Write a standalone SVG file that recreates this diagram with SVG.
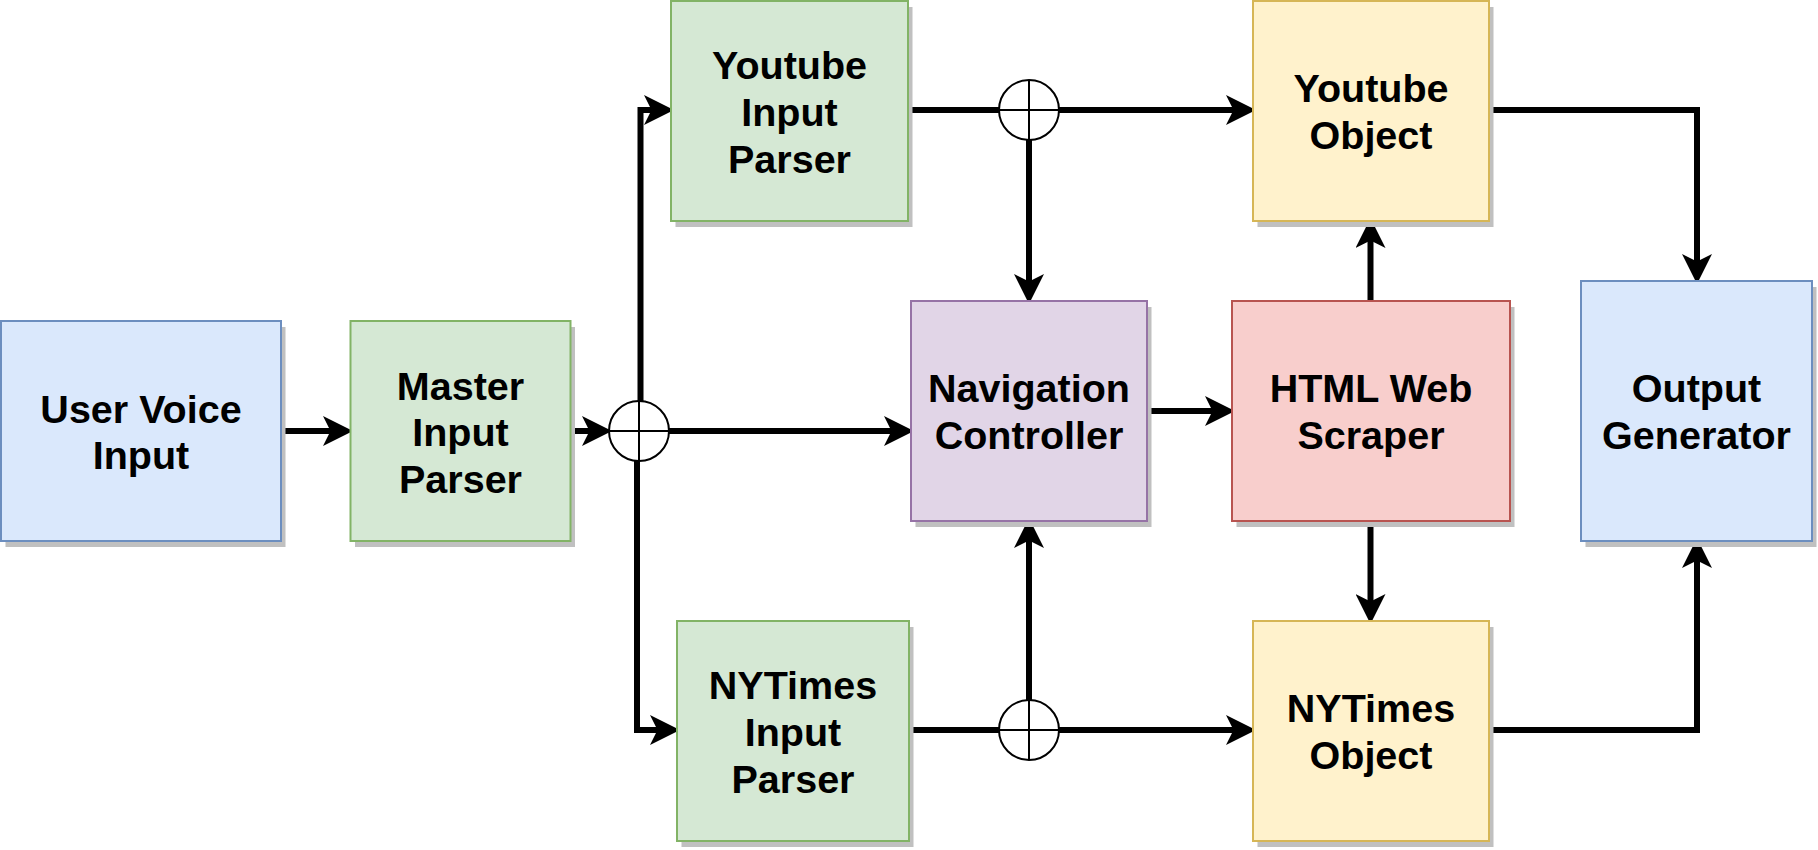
<svg xmlns="http://www.w3.org/2000/svg" width="1818" height="850" viewBox="0 0 1818 850">
<style>
.sh{fill:#c0c0c0;stroke:none}
.box{stroke-width:2}
.blue{fill:#dae8fc;stroke:#6c8ebf}
.green{fill:#d5e8d4;stroke:#82b366}
.purple{fill:#e1d5e7;stroke:#9673a6}
.red{fill:#f8cecc;stroke:#b85450}
.yellow{fill:#fff2cc;stroke:#d6b656}
.lbl{font-family:"Liberation Sans",Arial,Helvetica,sans-serif;font-weight:bold;font-size:39.5px;fill:#000;text-anchor:middle}
.edge{fill:none;stroke:#000;stroke-width:6}
.arr{marker-end:url(#ah)}
.sum circle{fill:#fff;stroke:#000;stroke-width:2}
.sum path{fill:none;stroke:#000;stroke-width:2}
</style>
<defs>
<marker id="ah" markerUnits="userSpaceOnUse" viewBox="0 0 30 30" markerWidth="30" markerHeight="30" refX="9" refY="15" orient="auto">
<path d="M30,15 L0,0 L7.5,15 L0,30 Z" fill="#000"/>
</marker>
</defs>
<rect width="1818" height="850" fill="#fff"/>

<g id="connectors">
<path class="edge arr" d="M281,431 H332"/>
<path class="edge arr" d="M571,431 H591"/>
<path class="edge arr" d="M669,431 H893"/>
<path class="edge arr" d="M640.5,401 V110 H653"/>
<path class="edge arr" d="M637,461 V730 H659"/>
<path class="edge" d="M908,110 H999"/>
<path class="edge arr" d="M1059,110 H1235"/>
<path class="edge arr" d="M1029,140 V283"/>
<path class="edge" d="M909,730 H999"/>
<path class="edge arr" d="M1059,730 H1235"/>
<path class="edge arr" d="M1029,700 V539"/>
<path class="edge arr" d="M1147,411 H1214"/>
<path class="edge arr" d="M1370.5,301 V239"/>
<path class="edge arr" d="M1370.5,521 V603"/>
<path class="edge arr" d="M1489,110 H1697 V263"/>
<path class="edge arr" d="M1489,730 H1697 V559"/>
</g>

<g id="sum1" class="sum"><circle cx="639" cy="431" r="30"/><path d="M609,431 H669 M639,401 V461"/></g>
<g id="sum2" class="sum"><circle cx="1029" cy="110" r="30"/><path d="M999,110 H1059 M1029,80 V140"/></g>
<g id="sum3" class="sum"><circle cx="1029" cy="730" r="30"/><path d="M999,730 H1059 M1029,700 V760"/></g>

<g id="user-voice-input">
<rect class="sh" x="5.5" y="327" width="280" height="220"/>
<rect class="box blue" x="1" y="321" width="280" height="220"/>
<text class="lbl" x="141" y="422.7">User Voice</text>
<text class="lbl" x="141" y="469.3">Input</text>
</g>

<g id="master-input-parser">
<rect class="sh" x="355" y="327" width="220" height="220"/>
<rect class="box green" x="350.5" y="321" width="220" height="220"/>
<text class="lbl" x="460.5" y="399.6">Master</text>
<text class="lbl" x="460.5" y="446.2">Input</text>
<text class="lbl" x="460.5" y="492.8">Parser</text>
</g>

<g id="youtube-input-parser">
<rect class="sh" x="675.5" y="7" width="237" height="220"/>
<rect class="box green" x="671" y="1" width="237" height="220"/>
<text class="lbl" x="789.5" y="78.6">Youtube</text>
<text class="lbl" x="789.5" y="125.6">Input</text>
<text class="lbl" x="789.5" y="172.6">Parser</text>
</g>

<g id="nytimes-input-parser">
<rect class="sh" x="681.5" y="627" width="232" height="220"/>
<rect class="box green" x="677" y="621" width="232" height="220"/>
<text class="lbl" x="793" y="698.6">NYTimes</text>
<text class="lbl" x="793" y="745.6">Input</text>
<text class="lbl" x="793" y="792.6">Parser</text>
</g>

<g id="navigation-controller">
<rect class="sh" x="915.5" y="307" width="236" height="220"/>
<rect class="box purple" x="911" y="301" width="236" height="220"/>
<text class="lbl" x="1029" y="402">Navigation</text>
<text class="lbl" x="1029" y="449">Controller</text>
</g>

<g id="html-web-scraper">
<rect class="sh" x="1236.5" y="307" width="278" height="220"/>
<rect class="box red" x="1232" y="301" width="278" height="220"/>
<text class="lbl" x="1371" y="402">HTML Web</text>
<text class="lbl" x="1371" y="449">Scraper</text>
</g>

<g id="youtube-object">
<rect class="sh" x="1257.5" y="7" width="236" height="220"/>
<rect class="box yellow" x="1253" y="1" width="236" height="220"/>
<text class="lbl" x="1371" y="101.5">Youtube</text>
<text class="lbl" x="1371" y="148.5">Object</text>
</g>

<g id="nytimes-object">
<rect class="sh" x="1257.5" y="627" width="236" height="220"/>
<rect class="box yellow" x="1253" y="621" width="236" height="220"/>
<text class="lbl" x="1371" y="722">NYTimes</text>
<text class="lbl" x="1371" y="769">Object</text>
</g>

<g id="output-generator">
<rect class="sh" x="1585.5" y="287" width="231" height="260"/>
<rect class="box blue" x="1581" y="281" width="231" height="260"/>
<text class="lbl" x="1696.5" y="402">Output</text>
<text class="lbl" x="1696.5" y="449">Generator</text>
</g>
</svg>
